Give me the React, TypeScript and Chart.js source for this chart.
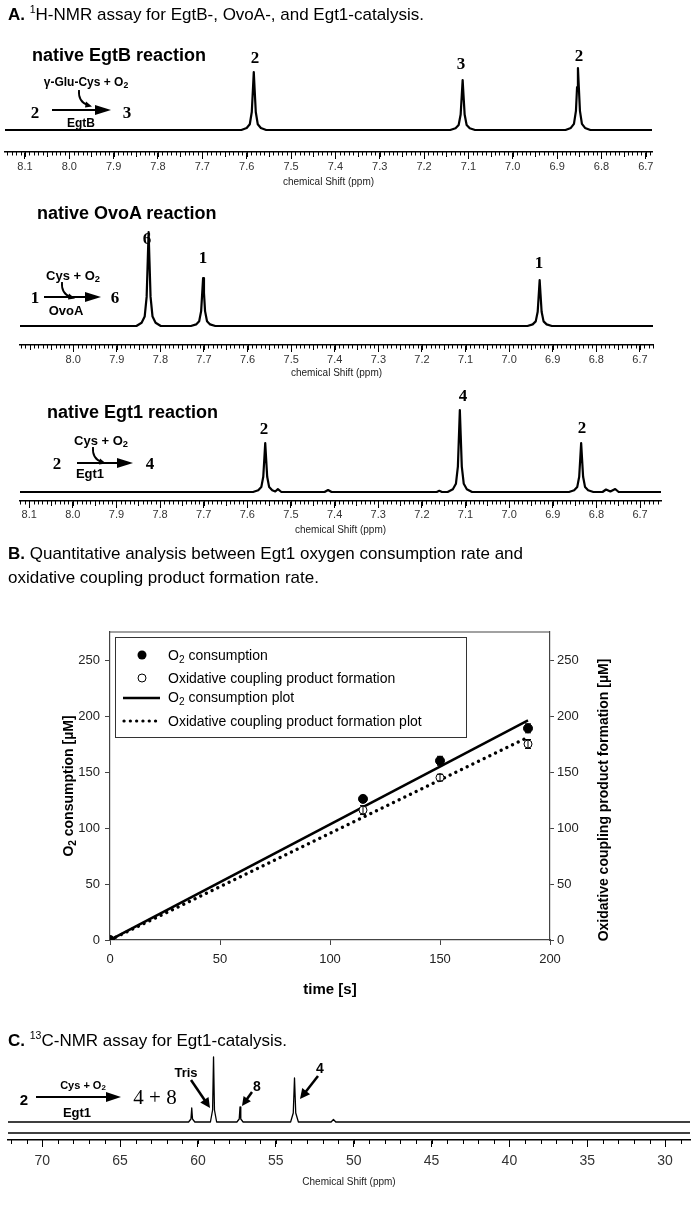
import React, { useEffect, useRef } from "react";
import { Chart, registerables } from "chart.js";

Chart.register(...registerables);

const SANS = '"Liberation Sans", Arial, Helvetica, sans-serif';
const SERIF = '"Liberation Serif", "Times New Roman", Times, serif';

// ---------------- Panel A : 1H-NMR spectra (ppm, intensity) ----------------
const egtbPpm = [8.145,
  7.612, 7.6, 7.593, 7.5885, 7.586, 7.584, 7.582, 7.5795, 7.575, 7.568, 7.556,
  7.141, 7.129, 7.122, 7.1175, 7.115, 7.113, 7.111, 7.1085, 7.104, 7.097, 7.085,
  6.881, 6.869, 6.862, 6.8575, 6.855, 6.853, 6.851, 6.8485, 6.844, 6.837, 6.825,
  6.686];
const egtbIntensity = [0,
  0, 2, 5.8, 18, 40, 58, 40, 18, 5.8, 2, 0,
  0, 1.7, 5, 15.5, 34.5, 50, 34.5, 15.5, 5, 1.7, 0,
  0, 2.1, 6.2, 19.2, 42.8, 62, 42.8, 19.2, 6.2, 2.1, 0,
  0];
const egtbTicks = [8.1, 8.0, 7.9, 7.8, 7.7, 7.6, 7.5, 7.4, 7.3, 7.2, 7.1, 7.0, 6.9, 6.8, 6.7];

const ovoaPpm = [8.122,
  7.855, 7.843, 7.836, 7.8315, 7.829, 7.827, 7.825, 7.8225, 7.818, 7.811, 7.799,
  7.73, 7.718, 7.711, 7.7065, 7.704, 7.702, 7.7, 7.6975, 7.693, 7.686, 7.674,
  6.958, 6.946, 6.939, 6.9345, 6.932, 6.93, 6.928, 6.9255, 6.921, 6.914, 6.902,
  6.67];
const ovoaIntensity = [0,
  0, 3.2, 9.4, 29.1, 64.9, 94, 64.9, 29.1, 9.4, 3.2, 0,
  0, 1.6, 4.8, 14.9, 33.1, 48, 33.1, 14.9, 4.8, 1.6, 0,
  0, 1.6, 4.6, 14.3, 31.7, 46, 31.7, 14.3, 4.6, 1.6, 0,
  0];
const ovoaTicks = [8.0, 7.9, 7.8, 7.7, 7.6, 7.5, 7.4, 7.3, 7.2, 7.1, 7.0, 6.9, 6.8, 6.7];

const egt1Ppm = [8.121,
  7.587, 7.575, 7.568, 7.5635, 7.561, 7.559, 7.557, 7.5545, 7.55, 7.543, 7.536, 7.53, 7.522,
  7.423, 7.415, 7.407,
  7.166, 7.16, 7.154,
  7.141, 7.129, 7.122, 7.1175, 7.115, 7.113, 7.111, 7.1085, 7.104, 7.097, 7.085,
  6.863, 6.851, 6.844, 6.8395, 6.837, 6.835, 6.833, 6.8305, 6.826, 6.819, 6.807,
  6.786, 6.778, 6.768, 6.757, 6.749,
  6.652];
const egt1Intensity = [0,
  0, 1.7, 4.9, 15.2, 33.8, 49, 33.8, 15.2, 4.9, 1.7, 0.5, 2.8, 0,
  0, 2, 0,
  0, 1.2, 0,
  0, 2.8, 8.2, 25.4, 56.6, 82, 56.6, 25.4, 8.2, 2.8, 0,
  0, 1.7, 4.9, 15.2, 33.8, 49, 33.8, 15.2, 4.9, 1.7, 0,
  0, 2.5, 0.5, 3, 0,
  0];
const egt1Ticks = [8.1, 8.0, 7.9, 7.8, 7.7, 7.6, 7.5, 7.4, 7.3, 7.2, 7.1, 7.0, 6.9, 6.8, 6.7];

// ---------------- Panel B : kinetics ----------------
const timeS = [0, 115, 150, 190];
const o2Consumption = [0, 126, 160, 189];
const o2Error = [0, 3, 4, 4];
const couplingFormation = [0, 116, 145, 175];
const couplingError = [0, 4, 3, 4];
const fitTime = [0, 190];
const o2Fit = [0, 196];
const couplingFit = [0, 181];
const timeTicks = [0, 50, 100, 150, 200];
const concTicks = [0, 50, 100, 150, 200, 250];

// ---------------- Panel C : 13C-NMR spectrum ----------------
const carbonPpm = [72.2, 60.6, 60.45, 60.4, 60.35, 60.2, 59.2, 59.06, 59.0, 58.94, 58.8, 57.5, 57.35, 57.3, 57.25, 57.1, 54.05, 53.88, 53.8, 53.72, 53.55, 51.45, 51.3, 51.15, 28.4];
const carbonIntensity = [0, 0, 3, 14, 3, 0, 0, 12, 65, 12, 0, 0, 3, 15, 3, 0, 0, 9, 44, 9, 0, 0, 2.5, 0, 0];
const carbonTicks = [70, 65, 60, 55, 50, 45, 40, 35, 30];

// ---------------- plugins ----------------
const minorTickPlugin = {
  id: "minorTicks",
  afterDraw(chart: any, _a: any, opts: any) {
    const x = chart.scales.x;
    const { ctx, chartArea } = chart;
    const y0 = chartArea.bottom;
    const lo = Math.min(x.min, x.max);
    const hi = Math.max(x.min, x.max);
    const n0 = Math.ceil(lo / opts.step - 1e-9);
    const n1 = Math.floor(hi / opts.step + 1e-9);
    ctx.save();
    ctx.strokeStyle = "#000";
    ctx.lineWidth = 1;
    ctx.beginPath();
    for (let i = n0; i <= n1; i++) {
      const v = i * opts.step;
      let len = opts.len;
      if (opts.mid) {
        const r = v / opts.mid;
        if (Math.abs(r - Math.round(r)) < 1e-6) len = opts.midLen;
      }
      const px = Math.round(x.getPixelForValue(v)) + 0.5;
      ctx.moveTo(px, y0);
      ctx.lineTo(px, y0 + len);
    }
    ctx.stroke();
    if (opts.separator) {
      ctx.lineWidth = 1.5;
      ctx.beginPath();
      ctx.moveTo(chartArea.left, y0 - opts.separator);
      ctx.lineTo(chartArea.right, y0 - opts.separator);
      ctx.stroke();
    }
    ctx.restore();
  },
};

const errorBarPlugin = {
  id: "errorBars",
  afterDatasetsDraw(chart: any) {
    const { ctx } = chart;
    const xs = chart.scales.x;
    const ys = chart.scales.y;
    const series = [
      { v: o2Consumption, e: o2Error },
      { v: couplingFormation, e: couplingError },
    ];
    ctx.save();
    ctx.strokeStyle = "#000";
    ctx.lineWidth = 1;
    series.forEach((s) => {
      s.v.forEach((val, i) => {
        const err = s.e[i];
        if (!err) return;
        const px = xs.getPixelForValue(timeS[i]);
        const yt = ys.getPixelForValue(val + err);
        const yb = ys.getPixelForValue(val - err);
        ctx.beginPath();
        ctx.moveTo(px, yt);
        ctx.lineTo(px, yb);
        ctx.moveTo(px - 3, yt);
        ctx.lineTo(px + 3, yt);
        ctx.moveTo(px - 3, yb);
        ctx.lineTo(px + 3, yb);
        ctx.stroke();
      });
    });
    ctx.restore();
  },
  afterDraw(chart: any) {
    const { ctx, chartArea } = chart;
    ctx.save();
    ctx.strokeStyle = "#444";
    ctx.lineWidth = 1.2;
    ctx.beginPath();
    ctx.moveTo(chartArea.left, chartArea.top);
    ctx.lineTo(chartArea.right, chartArea.top);
    ctx.stroke();
    ctx.restore();
  },
};

// ---------------- spectrum chart ----------------
type SpecDef = {
  top: number;
  height: number;
  left: number;
  right: number;
  ppm: number[];
  intensity: number[];
  xMin: number;
  xMax: number;
  yMin: number;
  yMax: number;
  ticks: number[];
  decimals: number;
  axisH: number;
  labelSize: number;
  labelPad: number;
  title: string;
  lineWidth: number;
  step: number;
  mid?: number;
  len: number;
  midLen?: number;
  separator?: number;
};

function SpectrumChart({ def }: { def: SpecDef }) {
  const ref = useRef<HTMLCanvasElement>(null);
  useEffect(() => {
    const chart = new Chart(ref.current as HTMLCanvasElement, {
      type: "line",
      data: {
        datasets: [
          {
            data: def.ppm.map((p, i) => ({ x: p, y: def.intensity[i] })),
            borderColor: "#000",
            borderWidth: def.lineWidth,
            pointRadius: 0,
            tension: 0,
            fill: false,
            borderJoinStyle: "round",
          } as any,
        ],
      },
      options: {
        responsive: false,
        animation: false,
        events: [],
        layout: {
          autoPadding: false,
          padding: { left: def.left, right: 695 - def.right, top: 0, bottom: 0 },
        },
        plugins: {
          legend: { display: false },
          tooltip: { enabled: false },
          minorTicks: { step: def.step, mid: def.mid, len: def.len, midLen: def.midLen, separator: def.separator },
        } as any,
        scales: {
          x: {
            type: "linear",
            reverse: true,
            min: def.xMin,
            max: def.xMax,
            afterBuildTicks: (sc: any) => {
              sc.ticks = def.ticks.map((v) => ({ value: v }));
            },
            afterFit: (sc: any) => {
              sc.height = def.axisH;
            },
            grid: { drawOnChartArea: false, drawTicks: true, tickLength: 7, color: "#000", lineWidth: 1 },
            border: { display: true, color: "#000", width: 1.5 },
            ticks: {
              padding: def.labelPad,
              autoSkip: false,
              maxRotation: 0,
              color: "#333",
              font: { family: SANS, size: def.labelSize },
              callback: (v: any) => Number(v).toFixed(def.decimals),
            },
            title: {
              display: true,
              text: def.title,
              color: "#222",
              font: { family: SANS, size: 10 },
              padding: { top: 0, bottom: 0 },
            },
          } as any,
          y: { display: false, min: def.yMin, max: def.yMax },
        },
      },
      plugins: [minorTickPlugin],
    });
    return () => chart.destroy();
  }, []);
  return (
    <canvas
      ref={ref}
      width={695}
      height={def.height}
      style={{ position: "absolute", left: 0, top: def.top, width: 695, height: def.height }}
    />
  );
}

const egtbDef: SpecDef = {
  top: 40, height: 148, left: 5, right: 652, ppm: egtbPpm, intensity: egtbIntensity,
  xMin: 6.686, xMax: 8.145, yMin: -22, yMax: 90, ticks: egtbTicks, decimals: 1,
  axisH: 36, labelSize: 11, labelPad: 1, title: "chemical Shift (ppm)", lineWidth: 2.2,
  step: 0.01, mid: 0.05, len: 3.5, midLen: 5,
};
const ovoaDef: SpecDef = {
  top: 220, height: 159, left: 20, right: 653, ppm: ovoaPpm, intensity: ovoaIntensity,
  xMin: 6.67, xMax: 8.122, yMin: -19, yMax: 106, ticks: ovoaTicks, decimals: 1,
  axisH: 34, labelSize: 11, labelPad: 1, title: "chemical Shift (ppm)", lineWidth: 2.2,
  step: 0.01, mid: 0.05, len: 3.5, midLen: 5,
};
const egt1Def: SpecDef = {
  top: 390, height: 146, left: 20, right: 661, ppm: egt1Ppm, intensity: egt1Intensity,
  xMin: 6.652, xMax: 8.121, yMin: -9, yMax: 102, ticks: egt1Ticks, decimals: 1,
  axisH: 35, labelSize: 11, labelPad: 0, title: "chemical Shift (ppm)", lineWidth: 2.2,
  step: 0.01, mid: 0.05, len: 3.5, midLen: 5,
};
const carbonDef: SpecDef = {
  top: 1050, height: 138, left: 8, right: 690, ppm: carbonPpm, intensity: carbonIntensity,
  xMin: 28.4, xMax: 72.2, yMin: -18, yMax: 72, ticks: carbonTicks, decimals: 0,
  axisH: 48, labelSize: 14, labelPad: 6, title: "Chemical Shift (ppm)", lineWidth: 1.3,
  step: 1, len: 4, separator: 7,
};

// ---------------- kinetics chart ----------------
function KineticsChart() {
  const ref = useRef<HTMLCanvasElement>(null);
  useEffect(() => {
    const axisCommon = {
      min: 0,
      max: 275,
      afterBuildTicks: (sc: any) => {
        sc.ticks = concTicks.map((v) => ({ value: v }));
      },
      afterFit: (sc: any) => {
        sc.width = 40;
      },
      border: { display: true, color: "#444", width: 1.2 },
      ticks: { color: "#222", font: { family: SANS, size: 13 } },
    };
    const chart = new Chart(ref.current as HTMLCanvasElement, {
      type: "scatter",
      data: {
        datasets: [
          {
            label: "O2 consumption",
            data: timeS.map((t, i) => ({ x: t, y: o2Consumption[i] })),
            pointRadius: 4.5,
            pointBackgroundColor: "#000",
            pointBorderColor: "#000",
            showLine: false,
          },
          {
            label: "Oxidative coupling product formation",
            data: timeS.map((t, i) => ({ x: t, y: couplingFormation[i] })),
            pointRadius: 4,
            pointBackgroundColor: "#fff",
            pointBorderColor: "#000",
            pointBorderWidth: 1,
            showLine: false,
          },
          {
            type: "line",
            label: "O2 consumption plot",
            data: fitTime.map((t, i) => ({ x: t, y: o2Fit[i] })),
            borderColor: "#000",
            borderWidth: 2.5,
            pointRadius: 0,
          },
          {
            type: "line",
            label: "Oxidative coupling product formation plot",
            data: fitTime.map((t, i) => ({ x: t, y: couplingFit[i] })),
            borderColor: "#000",
            borderWidth: 3.2,
            borderDash: [0.1, 6.2],
            borderCapStyle: "round",
            pointRadius: 0,
          },
        ] as any,
      },
      options: {
        responsive: false,
        animation: false,
        events: [],
        layout: { autoPadding: false, padding: { left: 70, right: 105, top: 32, bottom: 0 } },
        plugins: { legend: { display: false }, tooltip: { enabled: false } },
        scales: {
          x: {
            type: "linear",
            min: 0,
            max: 200,
            afterBuildTicks: (sc: any) => {
              sc.ticks = timeTicks.map((v) => ({ value: v }));
            },
            afterFit: (sc: any) => {
              sc.height = 30;
            },
            grid: { drawOnChartArea: false, tickLength: 5, color: "#444" },
            border: { display: true, color: "#444", width: 1.2 },
            ticks: { padding: 7, color: "#222", font: { family: SANS, size: 13 } },
          } as any,
          y: {
            ...axisCommon,
            type: "linear",
            position: "left",
            grid: { drawOnChartArea: false, tickLength: 5, color: "#444" },
            ticks: { ...axisCommon.ticks, padding: 5 },
          } as any,
          y2: {
            ...axisCommon,
            type: "linear",
            position: "right",
            grid: { drawOnChartArea: false, tickLength: 4, color: "#444" },
            ticks: { ...axisCommon.ticks, padding: 3 },
          } as any,
        },
      },
      plugins: [errorBarPlugin],
    });
    return () => chart.destroy();
  }, []);
  return (
    <canvas
      ref={ref}
      width={695}
      height={370}
      style={{ position: "absolute", left: 0, top: 600, width: 695, height: 370 }}
    />
  );
}

// ---------------- text & arrow helpers ----------------
function T({ x, y, size = 13, bold = false, serif = false, center = true, rotate = 0, children }: any) {
  const tf = `translate(${center ? "-50%" : "0"}, -50%)` + (rotate ? ` rotate(${rotate}deg)` : "");
  return (
    <div
      style={{
        position: "absolute",
        left: x,
        top: y,
        transform: tf,
        fontSize: size,
        fontWeight: bold ? 700 : 400,
        fontFamily: serif ? SERIF : SANS,
        whiteSpace: "nowrap",
        lineHeight: 1,
        color: "#000",
      }}
    >
      {children}
    </div>
  );
}

const Sub = ({ children }: any) => (
  <sub style={{ fontSize: "0.72em", verticalAlign: "-0.25em", lineHeight: 0 }}>{children}</sub>
);
const Sup = ({ children }: any) => (
  <sup style={{ fontSize: "0.62em", verticalAlign: "0.62em", lineHeight: 0 }}>{children}</sup>
);

function Arrow({ x1, y1, x2, y2, w = 2, head = 12, half = 4 }: any) {
  const dx = x2 - x1;
  const dy = y2 - y1;
  const L = Math.hypot(dx, dy);
  const ux = dx / L;
  const uy = dy / L;
  const bx = x2 - ux * head;
  const by = y2 - uy * head;
  const px = -uy;
  const py = ux;
  return (
    <g>
      <line x1={x1} y1={y1} x2={bx + ux} y2={by + uy} stroke="#000" strokeWidth={w} />
      <polygon
        points={`${x2},${y2} ${bx + px * half},${by + py * half} ${bx - px * half},${by - py * half}`}
        fill="#000"
      />
    </g>
  );
}

function Hook({ x, y }: any) {
  return (
    <g>
      <path d={`M${x},${y} Q${x - 1},${y + 12} ${x + 9},${y + 15}`} stroke="#000" strokeWidth={1.8} fill="none" />
      <polygon points={`${x + 13},${y + 16.5} ${x + 7},${y + 11.5} ${x + 6},${y + 17.5}`} fill="#000" />
    </g>
  );
}

export default function App() {
  return (
    <div
      style={{
        position: "absolute",
        left: 0,
        top: 0,
        width: 695,
        height: 1212,
        background: "#fff",
        overflow: "hidden",
        fontFamily: SANS,
      }}
    >
      <SpectrumChart def={egtbDef} />
      <SpectrumChart def={ovoaDef} />
      <SpectrumChart def={egt1Def} />
      <KineticsChart />
      <SpectrumChart def={carbonDef} />

      <svg width={695} height={1212} style={{ position: "absolute", left: 0, top: 0, pointerEvents: "none" }}>
        <Arrow x1={52} y1={110} x2={111} y2={110} head={16} half={5} />
        <Hook x={79} y={90} />
        <Arrow x1={44} y1={297} x2={101} y2={297} head={16} half={5} />
        <Hook x={62} y={282} />
        <Arrow x1={77} y1={463} x2={133} y2={463} head={16} half={5} />
        <Hook x={93} y={447} />
        <circle cx={142} cy={655} r={4.5} fill="#000" />
        <circle cx={142} cy={678} r={4} fill="#fff" stroke="#000" strokeWidth={1} />
        <line x1={123} y1={698} x2={160} y2={698} stroke="#000" strokeWidth={2.5} />
        <line x1={124} y1={721} x2={160} y2={721} stroke="#000" strokeWidth={3.2} strokeDasharray="0.1 6.2" strokeLinecap="round" />
        <Arrow x1={36} y1={1097} x2={121} y2={1097} head={15} half={5} />
        <Arrow x1={191} y1={1080} x2={210} y2={1108} w={2.5} head={10} half={5} />
        <Arrow x1={252} y1={1092} x2={242} y2={1106} w={2.5} head={9} half={4.5} />
        <Arrow x1={318} y1={1076} x2={300} y2={1099} w={2.5} head={10} half={5} />
      </svg>

      {/* Panel A */}
      <T x={8} y={14} size={17} center={false}>
        <b>A.</b> <Sup>1</Sup>H-NMR assay for EgtB-, OvoA-, and Egt1-catalysis.
      </T>
      <T x={32} y={55} size={18} bold center={false}>native EgtB reaction</T>
      <T x={255} y={57} size={17} bold serif>2</T>
      <T x={461} y={63} size={17} bold serif>3</T>
      <T x={579} y={55} size={17} bold serif>2</T>
      <T x={35} y={112} size={17} bold serif>2</T>
      <T x={127} y={112} size={17} bold serif>3</T>
      <T x={86} y={82} size={12} bold>γ-Glu-Cys + O<Sub>2</Sub></T>
      <T x={81} y={123} size={12} bold>EgtB</T>

      <T x={37} y={213} size={18} bold center={false}>native OvoA reaction</T>
      <T x={147} y={238} size={17} bold serif>6</T>
      <T x={203} y={257} size={17} bold serif>1</T>
      <T x={539} y={262} size={17} bold serif>1</T>
      <T x={35} y={297} size={17} bold serif>1</T>
      <T x={115} y={297} size={17} bold serif>6</T>
      <T x={73} y={275} size={13} bold>Cys + O<Sub>2</Sub></T>
      <T x={66} y={310} size={13} bold>OvoA</T>

      <T x={47} y={412} size={18} bold center={false}>native Egt1 reaction</T>
      <T x={264} y={428} size={17} bold serif>2</T>
      <T x={463} y={395} size={17} bold serif>4</T>
      <T x={582} y={427} size={17} bold serif>2</T>
      <T x={57} y={463} size={17} bold serif>2</T>
      <T x={150} y={463} size={17} bold serif>4</T>
      <T x={101} y={440} size={13} bold>Cys + O<Sub>2</Sub></T>
      <T x={90} y={473} size={13} bold>Egt1</T>

      {/* Panel B */}
      <T x={8} y={553} size={17} center={false}>
        <b>B.</b> Quantitative analysis between Egt1 oxygen consumption rate and
      </T>
      <T x={8} y={577} size={17} center={false}>oxidative coupling product formation rate.</T>
      <div
        style={{
          position: "absolute",
          left: 115,
          top: 637,
          width: 352,
          height: 101,
          border: "1px solid #333",
          boxSizing: "border-box",
        }}
      />
      <T x={168} y={655} size={14} center={false}>O<Sub>2</Sub> consumption</T>
      <T x={168} y={678} size={14} center={false}>Oxidative coupling product formation</T>
      <T x={168} y={697} size={14} center={false}>O<Sub>2</Sub> consumption plot</T>
      <T x={168} y={721} size={14} center={false}>Oxidative coupling product formation plot</T>
      <T x={330} y={988} size={15} bold>time [s]</T>
      <T x={68} y={786} size={14} bold rotate={-90}>O<Sub>2</Sub> consumption [µM]</T>
      <T x={603} y={800} size={14} bold rotate={-90}>Oxidative coupling product formation [µM]</T>

      {/* Panel C */}
      <T x={8} y={1040} size={17} center={false}>
        <b>C.</b> <Sup>13</Sup>C-NMR assay for Egt1-catalysis.
      </T>
      <T x={24} y={1099} size={15} bold>2</T>
      <T x={83} y={1085} size={11} bold>Cys + O<Sub>2</Sub></T>
      <T x={77} y={1112} size={13} bold>Egt1</T>
      <T x={155} y={1097} size={21} serif>4 + 8</T>
      <T x={186} y={1072} size={13} bold>Tris</T>
      <T x={257} y={1086} size={14} bold>8</T>
      <T x={320} y={1068} size={14} bold>4</T>
    </div>
  );
}
